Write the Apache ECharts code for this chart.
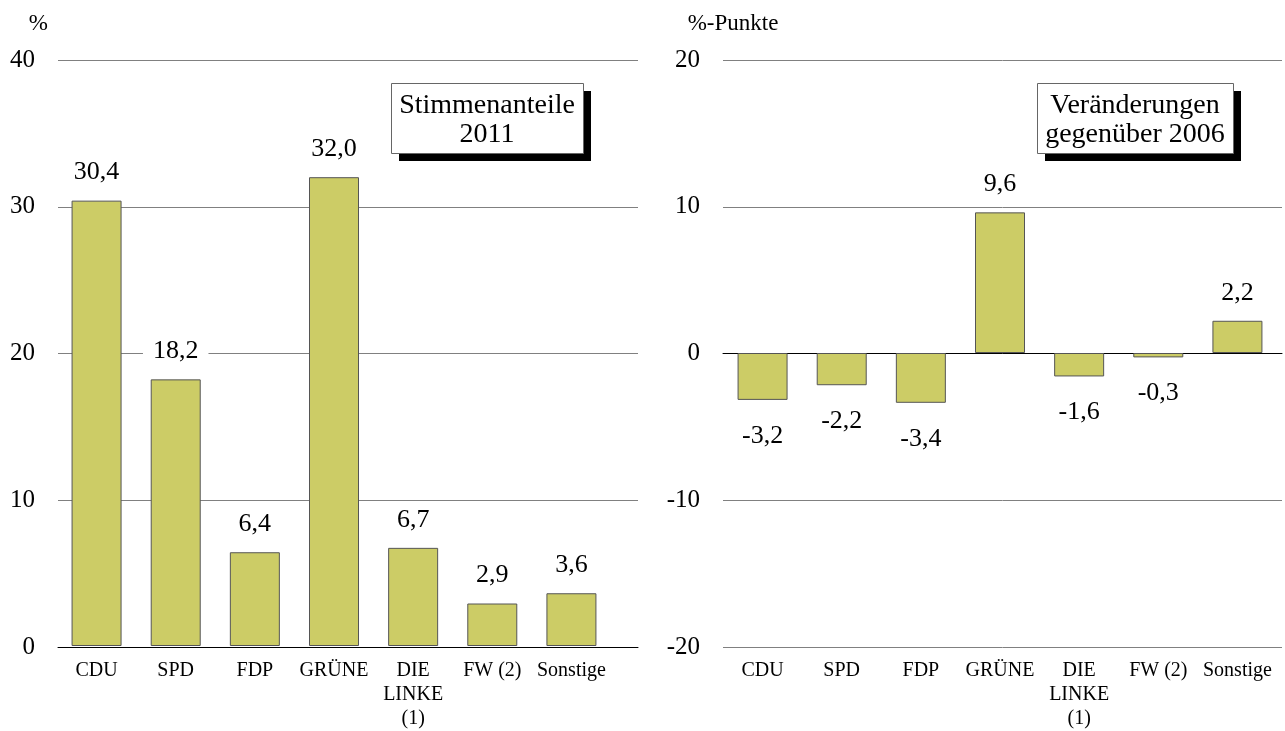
<!DOCTYPE html>
<html>
<head>
    <meta charset='utf-8'>
    <script src="https://cdn.jsdelivr.net/npm/echarts@6/dist/echarts.min.js"></script>
</head>
<body>
<style>
    html, body, #main {
        width: 100%;
        height: 100%;
        margin: 0;
        padding: 0;
        background: #fff;
    }
</style>
<div id="main"></div>
<script>

    var categories = ['CDU', 'SPD', 'FDP', 'GRÜNE', 'DIE\nLINKE\n(1)', 'FW (2)', 'Sonstige'];
    var shares2011 = [30.4, 18.2, 6.4, 32.0, 6.7, 2.9, 3.6];
    var change2006 = [-3.2, -2.2, -3.4, 9.6, -1.6, -0.3, 2.2];

    var serif = 'Liberation Serif';
    var barColor = '#cccc66';

    function fmt(params) {
        return params.value.toFixed(1).replace('.', ',');
    }

    var chart = echarts.init(document.getElementById('main'));

    // lines grid + bars grid per panel, so the grid lines run a bit past the last bar
    var lineX = function (grid) {
        return {
            type: 'category', gridIndex: grid, data: categories,
            axisLine: {show: true, onZero: true, lineStyle: {color: '#000', width: 1}},
            axisTick: {show: false},
            axisLabel: {show: false}
        };
    };
    var barX = function (grid) {
        return {
            type: 'category', gridIndex: grid, data: categories,
            axisLine: {show: false},
            axisTick: {show: false},
            axisLabel: {
                interval: 0, fontSize: 20, lineHeight: 24, margin: 13,
                color: '#000', fontFamily: serif
            }
        };
    };
    var lineY = function (grid, min, max, name, nameStyle) {
        return {
            type: 'value', gridIndex: grid, min: min, max: max, interval: 10,
            name: name, nameGap: 25, nameLocation: 'end',
            nameTextStyle: nameStyle,
            axisLine: {show: false},
            axisTick: {show: false},
            axisLabel: {fontSize: 25, margin: 23, color: '#000', fontFamily: serif},
            splitLine: {show: true, lineStyle: {color: '#808080', width: 1}}
        };
    };
    var barY = function (grid, min, max) {
        return {type: 'value', gridIndex: grid, min: min, max: max, show: false, splitLine: {show: false}};
    };

    var valueLabel = {
        show: true,
        distance: 15,
        fontSize: 26,
        color: '#000',
        fontFamily: serif,
        backgroundColor: '#fff',
        padding: [0, 10],
        formatter: fmt
    };

    var option = {
        animation: false,
        textStyle: {fontFamily: serif},
        grid: [
            {left: 58, width: 580, top: 60, bottom: 84},
            {left: 57, width: 554, top: 60, bottom: 84},
            {left: 723, width: 559, top: 60, bottom: 84},
            {left: 723, width: 554, top: 60, bottom: 84}
        ],
        xAxis: [lineX(0), barX(1), lineX(2), barX(3)],
        yAxis: [
            lineY(0, 0, 40, '%', {fontSize: 23, color: '#000', align: 'right', padding: [0, 10, 0, 0], fontFamily: serif}),
            barY(1, 0, 40),
            lineY(2, -20, 20, '%-Punkte', {fontSize: 23, color: '#000', align: 'center', padding: [0, 0, 0, 20], fontFamily: serif}),
            barY(3, -20, 20)
        ],
        series: [{
            type: 'bar',
            xAxisIndex: 1,
            yAxisIndex: 1,
            barWidth: 50,
            data: shares2011,
            itemStyle: {color: barColor, borderColor: '#555', borderWidth: 1},
            label: Object.assign({position: 'top'}, valueLabel)
        }, {
            type: 'bar',
            xAxisIndex: 3,
            yAxisIndex: 3,
            barWidth: 50,
            data: change2006.map(function (v) {
                return {value: v, label: {position: v < 0 ? 'bottom' : 'top', distance: v < 0 ? 23 : 15}};
            }),
            itemStyle: {color: barColor, borderColor: '#555', borderWidth: 1},
            label: valueLabel
        }],
        graphic: [
            {type: 'rect', left: 399, top: 91, shape: {width: 192, height: 70}, style: {fill: '#000'}, z: 10},
            {type: 'rect', left: 391, top: 83, shape: {width: 192, height: 70},
                style: {fill: '#fff', stroke: '#666', lineWidth: 1}, z: 11},
            {type: 'text', x: 487, y: 120, z: 12,
                style: {text: 'Stimmenanteile\n2011', fill: '#000', font: '28px "Liberation Serif"',
                    lineHeight: 29, align: 'center', verticalAlign: 'middle'}},
            {type: 'rect', left: 1045, top: 91, shape: {width: 196, height: 70}, style: {fill: '#000'}, z: 10},
            {type: 'rect', left: 1037, top: 83, shape: {width: 196, height: 70},
                style: {fill: '#fff', stroke: '#666', lineWidth: 1}, z: 11},
            {type: 'text', x: 1135, y: 120, z: 12,
                style: {text: 'Veränderungen\ngegenüber 2006', fill: '#000', font: '28px "Liberation Serif"',
                    lineHeight: 29, align: 'center', verticalAlign: 'middle'}}
        ]
    };

    chart.setOption(option);
</script>
</body>
</html>
